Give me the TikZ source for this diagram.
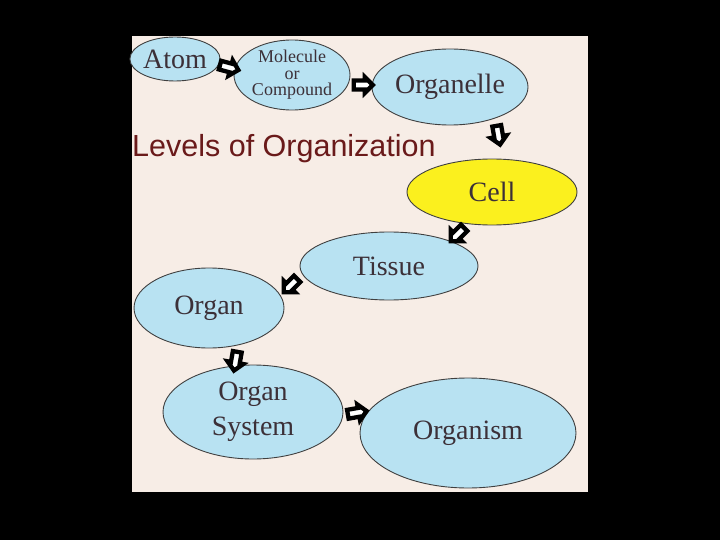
\documentclass[tikz,border=0pt]{standalone}
\usepackage{fontspec}
\setmainfont{Liberation Serif}
\newfontfamily\titlefont{Liberation Sans}
\usetikzlibrary{shapes.geometric,shapes.arrows}
\definecolor{bgbeige}{HTML}{F7EDE6}
\definecolor{lblue}{HTML}{B8E2F2}
\definecolor{cellyel}{HTML}{FBF01E}
\definecolor{txtgray}{HTML}{3C3038}
\definecolor{titlered}{HTML}{6A1A1A}
\tikzset{
  level/.style={ellipse, draw=black!75, line width=0.9pt, fill=lblue, inner sep=0pt,
    text=txtgray, align=center, font=\fontsize{28}{35}\selectfont},
  blockarrow/.style={single arrow, draw=black, fill=white, line width=4.3pt,
    minimum height=19pt, minimum width=16pt, single arrow head extend=2.5pt,
    inner sep=1pt}
}
\begin{document}
\begin{tikzpicture}[x=1pt,y=-1pt]
\useasboundingbox (0,0) rectangle (720,540);
\fill[black] (0,0) rectangle (720,540);
\fill[bgbeige] (132,36) rectangle (588,492);

\node[level, minimum width=84pt, minimum height=44pt] (atom) at (175,59) {Atom};
\node[level, minimum width=116pt, minimum height=70pt, font=\fontsize{18}{16.5}\selectfont] (mol) at (292,75) {Molecule\\or\\Compound};
\node[level, minimum width=156pt, minimum height=76pt] (orgl) at (450,87) {Organelle};
\node[level, fill=cellyel, minimum width=170pt, minimum height=66pt] (cell) at (492,192) {Cell};
\node[level, minimum width=178pt, minimum height=68pt] (tissue) at (389,266) {Tissue};
\node[level, minimum width=150pt, minimum height=80pt] (organ) at (209,308) {Organ};
\node[level, minimum width=180pt, minimum height=94pt] (osys) at (253,412) {Organ\\System};
\node[level, minimum width=216pt, minimum height=110pt] (orgm) at (468,433) {Organism};

\node[anchor=west, inner sep=0pt, text=titlered, font=\titlefont\fontsize{30.5}{36}\selectfont] (title) at (132,149) {Levels of Organization};

\node[blockarrow, rotate=-15] (a1) at (227,67) {};
\node[blockarrow] (a2) at (361,85) {};
\node[blockarrow, rotate=-80] (a3) at (498,133) {};
\node[blockarrow, rotate=-135] (a4) at (459,233) {};
\node[blockarrow, rotate=-135] (a5) at (292,284) {};
\node[blockarrow, rotate=-100] (a6) at (236,359) {};
\node[blockarrow, rotate=10] (a7) at (355,413) {};
\end{tikzpicture}
\end{document}
